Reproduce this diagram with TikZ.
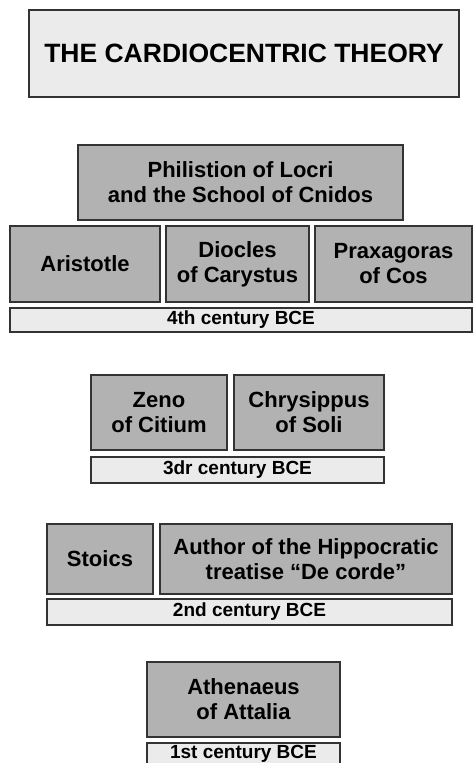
\documentclass[tikz,border=0pt]{standalone}
\usepackage{fontspec}
\setmainfont{Liberation Sans}
\definecolor{darkfill}{HTML}{B2B2B2}
\definecolor{lightfill}{HTML}{EBEBEB}
\definecolor{edge}{HTML}{333333}
\begin{document}
\begin{tikzpicture}[x=1pt,y=-1pt,
  base/.style={draw=edge, line width=1.3pt, inner sep=0pt, outer sep=0pt, align=center, font=\bfseries},
  titlebox/.style={base, fill=lightfill, font=\bfseries\fontsize{26.5}{30}\selectfont},
  person/.style={base, fill=darkfill, font=\bfseries\fontsize{22}{25}\selectfont},
  era/.style={base, fill=lightfill, font=\bfseries\fontsize{19}{21}\selectfont},
]
\useasboundingbox (0,0) rectangle (473,763);
\begin{scope}
\clip (0,0) rectangle (473,763);
\node[titlebox, minimum width=430pt, minimum height=87pt] (title) at (244,53.5) {THE CARDIOCENTRIC THEORY};

\node[person, minimum width=325pt, minimum height=75pt] (phil) at (240.5,182.5) {Philistion of Locri\\and the School of Cnidos};
\node[person, minimum width=150pt, minimum height=76pt] (arist) at (85,264) {Aristotle};
\node[person, minimum width=143pt, minimum height=76pt] (diocles) at (237.5,264) {Diocles\\of Carystus};
\node[person, minimum width=157pt, minimum height=76pt] (prax) at (393.5,264) {Praxagoras\\of Cos};
\node[era, minimum width=462pt, minimum height=24pt] (c4) at (241,320) {4th century BCE};

\node[person, minimum width=136pt, minimum height=75pt] (zeno) at (159,412.5) {Zeno\\of Citium};
\node[person, minimum width=150pt, minimum height=75pt] (chrys) at (309,412.5) {Chrysippus\\of Soli};
\node[era, minimum width=293pt, minimum height=26pt] (c3) at (237.5,470) {3dr century BCE};

\node[person, minimum width=106pt, minimum height=70pt] (stoics) at (100,559) {Stoics};
\node[person, minimum width=292pt, minimum height=70pt] (author) at (306,559) {Author of the Hippocratic\\treatise “De corde”};
\node[era, minimum width=405pt, minimum height=26pt] (c2) at (249.5,612) {2nd century BCE};

\node[person, minimum width=193pt, minimum height=75pt] (athen) at (243.5,699.5) {Athenaeus\\of Attalia};
\node[era, minimum width=193pt, minimum height=22pt] (c1) at (243.5,754) {1st century BCE};
\end{scope}
\end{tikzpicture}
\end{document}
